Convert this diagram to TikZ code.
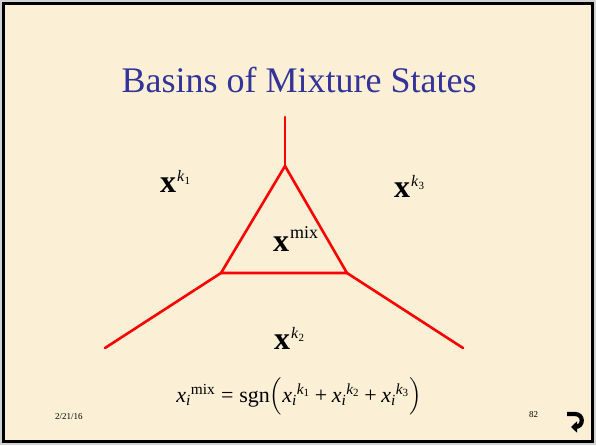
\documentclass[tikz,border=0pt]{standalone}
\usepackage{fontspec}
\usepackage{amsmath}
\setmainfont{Liberation Serif}
\usetikzlibrary{arrows.meta}
\definecolor{slidebg}{HTML}{FBF0D6}
\definecolor{titleblue}{HTML}{333399}
\tikzset{
  border/.style={draw=black,line width=3pt},
  basin/.style={draw=red,line width=2.6pt,line cap=round,line join=miter},
  lab/.style={anchor=base west,inner sep=0pt,font=\fontsize{32}{34}\selectfont},
  foot/.style={anchor=base west,inner sep=0pt,font=\fontsize{9}{10}\selectfont}
}
\newcommand{\supk}[1]{\hspace{1pt}\raisebox{11pt}{\fontsize{16}{16}\selectfont\textit{k}\raisebox{-3.5pt}{\fontsize{11}{11}\selectfont #1}}}
\newcommand{\xt}{\text{\itshape x}}
\newcommand{\myi}{\text{\itshape i}}
\newcommand{\xk}[1]{\xt_{\myi}{}^{\text{\itshape k}_{\text{#1}}}}
\begin{document}
\begin{tikzpicture}[x=1pt,y=-1pt]
\useasboundingbox (0,0) rectangle (596,445);
\fill[gray!35] (0,0) rectangle (596,445);
\fill[slidebg] (3.5,3.5) rectangle (592.5,441.5);
\draw[border] (3.5,3.5) rectangle (592.5,441.5);
% title
\node[anchor=base,inner sep=0pt,text=titleblue,font=\fontsize{36}{40}\selectfont] (title) at (299,92) {Basins of Mixture States};
% basin boundaries
\coordinate (top) at (285,117);
\coordinate (apex) at (285,166);
\coordinate (L) at (221,273);
\coordinate (R) at (347,273);
\coordinate (LL) at (105,348);
\coordinate (RR) at (463,348);
\draw[basin] (top) -- (apex);
\draw[basin] (apex) -- (L) -- (R) -- cycle;
\draw[basin] (L) -- (LL);
\draw[basin] (R) -- (RR);
% labels
\node[lab] (xk1) at (160,192) {\textbf{x}\supk{1}};
\node[lab] (xk3) at (394,197) {\textbf{x}\supk{3}};
\node[lab] (xk2) at (274,349) {\textbf{x}\supk{2}};
\node[lab] (xmix) at (273,251) {\textbf{x}\hspace{1pt}\raisebox{13pt}{\fontsize{18}{18}\selectfont mix}};
% formula
\node[anchor=base,inner sep=0pt,font=\fontsize{22}{26}\selectfont] (formula) at (299,402)
 {$\xt_{\myi}{}^{\text{mix}} \mathrel{\text{=}} \text{sgn}\Big( \xk{1} \mathbin{\text{+}} \xk{2} \mathbin{\text{+}} \xk{3} \Big)$};
% footer
\node[foot] (date) at (55,419) {2/21/16};
\node[foot] (page) at (529,417) {82};
\coordinate (r1) at (567,414);
\coordinate (r2) at (575,414);
\coordinate (r3) at (575,427);
\coordinate (r4) at (571,427);
\draw[line width=4.2pt,-{Triangle[length=6pt,width=11pt]}] (r1) -- (r2) .. controls (584,414) and (584,427) .. (r3) -- (r4);
\end{tikzpicture}
\end{document}
